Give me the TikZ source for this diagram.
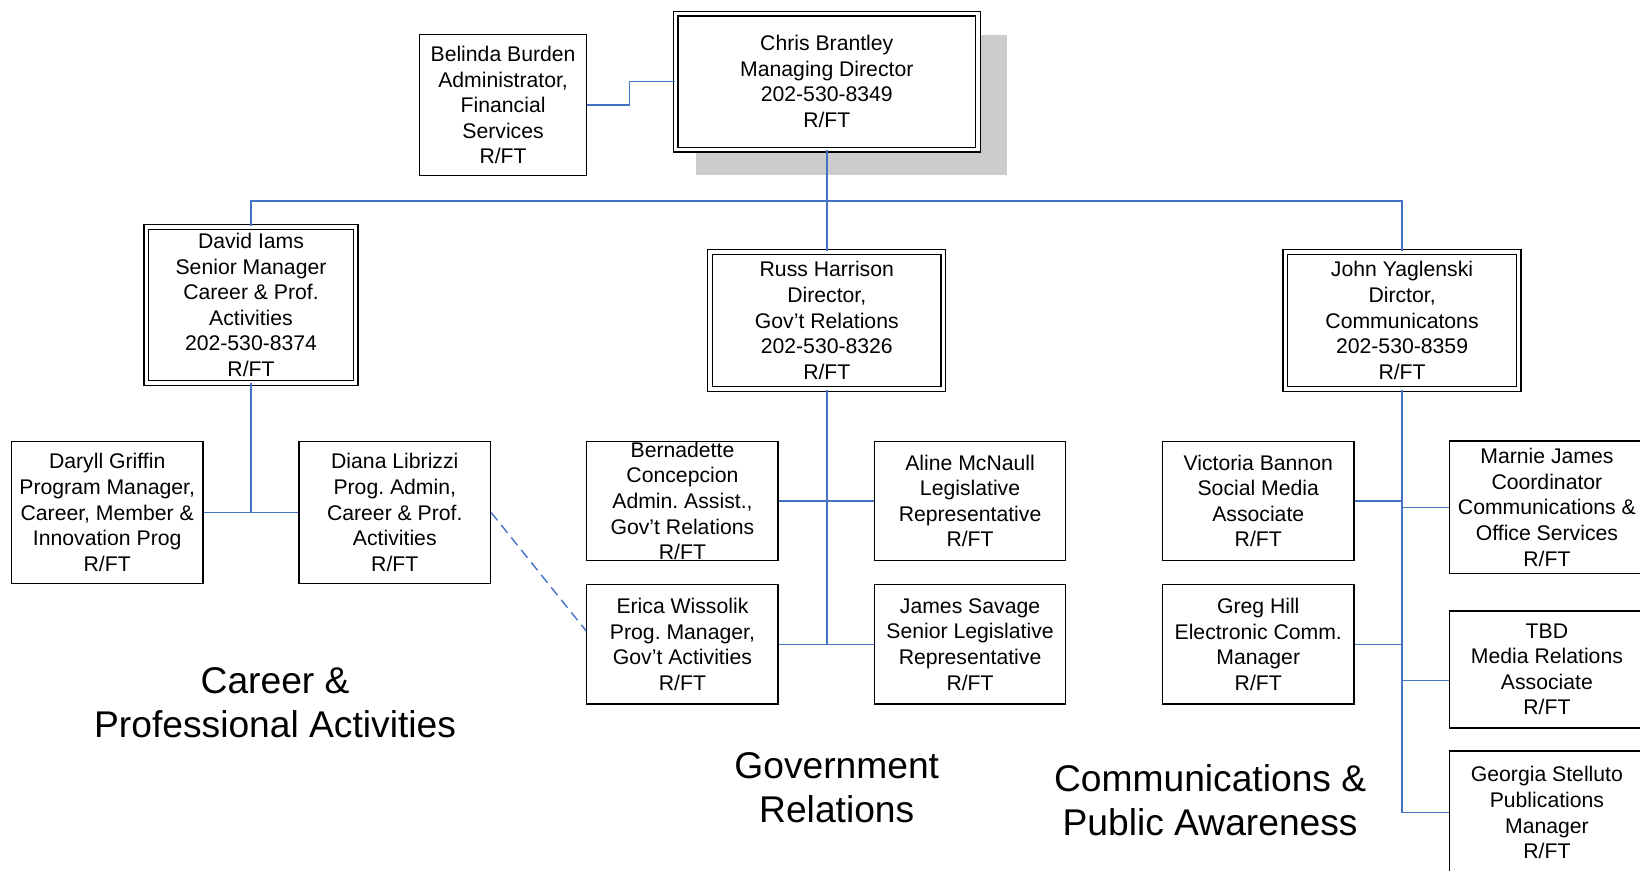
\documentclass[tikz,border=0pt]{standalone}
\usepackage{fontspec}
\setmainfont{Liberation Sans}
\usetikzlibrary{positioning,shadows,calc}
\definecolor{linkblue}{HTML}{4472C4}
\newcommand{\pxu}{0.523pt}
\frenchspacing

\begin{document}
\begin{tikzpicture}[x=\pxu, y=-\pxu, node distance=143.8pt,
    box/.style={draw, line width=0.7pt, fill=white, align=center, inner sep=0pt,
      font=\fontsize{10.6}{12.8}\selectfont, minimum width=183*\pxu, minimum height=114*\pxu},
    headbox/.style={box, double, double distance=1.8pt, line width=0.6pt},
    link/.style={draw=linkblue, line width=0.7pt},
    title/.style={align=center, font=\fontsize{18.6}{22}\selectfont}]
    \useasboundingbox (0,0) rectangle (1568,832);

    % Top
    \node [headbox, minimum width=289*\pxu, minimum height=130*\pxu,
      drop shadow={shadow xshift=12pt, shadow yshift=-11.5pt, shadow scale=1.03, fill=black!20, opacity=1}]
      (chris) at (790.5,78) {Chris Brantley\\Managing Director\\202-530-8349\\R/FT};
    \node [box, minimum width=160*\pxu, minimum height=135*\pxu] (belinda) at (481,100.5)
      {Belinda Burden\\Administrator,\\Financial\\Services\\R/FT};
    \draw [link] (belinda.east) -- ++(40,0) |- (chris.west);

    % Heads
    \node [headbox, minimum width=200*\pxu, minimum height=149*\pxu] (david) at (240,291.5)
      {David Iams\\Senior Manager\\Career \& Prof.\\Activities\\202-530-8374\\R/FT};
    \node [headbox, minimum width=223*\pxu, minimum height=131*\pxu] (russ) at (790.5,306.5)
      {Russ Harrison\\Director,\\Gov’t Relations\\202-530-8326\\R/FT};
    \node [headbox, minimum width=223*\pxu, minimum height=131*\pxu] (john) at (1340.5,306.5)
      {John Yaglenski\\Dirctor,\\Communicatons\\202-530-8359\\R/FT};
    \coordinate (bus) at (790.5,192);
    \draw [link] (chris.south) -- (russ.north);
    \draw [link] (david.north) |- (bus) -| (john.north);

    % Career & Prof.
    \node [box, minimum height=136*\pxu] (daryll) at (102.5,490)
      {Daryll Griffin\\Program Manager,\\Career, Member \&\\Innovation Prog\\R/FT};
    \node [box, minimum height=136*\pxu, right of=daryll] (diana)
      {Diana Librizzi\\Prog. Admin,\\Career \& Prof.\\Activities\\R/FT};
    \draw [link] (david.south) -- (david.south |- daryll.east);
    \draw [link] (daryll.east) -- (diana.west);

    % Gov't Relations
    \node [box] (bernadette) at (652.5,479)
      {Bernadette\\Concepcion\\Admin. Assist.,\\Gov’t Relations\\R/FT};
    \node [box, right of=bernadette] (aline)
      {Aline McNaull\\Legislative\\Representative\\R/FT};
    \node [box, below of=bernadette, node distance=71.7pt] (erica)
      {Erica Wissolik\\Prog. Manager,\\Gov’t Activities\\R/FT};
    \node [box, right of=erica] (james)
      {James Savage\\Senior Legislative\\Representative\\R/FT};
    \draw [link] (russ.south) -- (russ.south |- erica.east);
    \draw [link] (bernadette.east) -- (aline.west);
    \draw [link] (erica.east) -- (james.west);
    \draw [link, dash pattern=on 5pt off 3pt] (diana.east) -- ([yshift=6.8pt]erica.west);

    % Communications
    \node [box] (victoria) at (1203,479)
      {Victoria Bannon\\Social Media\\Associate\\R/FT};
    \node [box, below of=victoria, node distance=71.7pt] (greg)
      {Greg Hill\\Electronic Comm.\\Manager\\R/FT};
    \node [box, minimum width=186*\pxu, minimum height=127*\pxu] (marnie) at (1479,485)
      {Marnie James\\Coordinator\\Communications \&\\Office Services\\R/FT};
    \node [box, minimum width=186*\pxu, minimum height=112*\pxu] (tbd) at (1479,640)
      {TBD\\Media Relations\\Associate\\R/FT};
    \node [box, minimum width=186*\pxu, minimum height=118*\pxu] (georgia) at (1479,777)
      {Georgia Stelluto\\Publications\\Manager\\R/FT};
    \draw [link] (john.south) -- (john.south |- georgia.west);
    \draw [link] (victoria.east) -- (victoria.east -| john.south);
    \draw [link] (greg.east) -- (greg.east -| john.south);
    \draw [link] (marnie.west -| john.south) -- (marnie.west);
    \draw [link] ([yshift=-5.5pt]tbd.west -| john.south) -- ([yshift=-5.5pt]tbd.west);
    \draw [link] (georgia.west -| john.south) -- (georgia.west);

    % Group titles
    \node [title] (careerlbl) at (263,672) {Career \&\\Professional Activities};
    \node [title] (govlbl) at (800,753) {Government\\Relations};
    \node [title] (commlbl) at (1157,765) {Communications \&\\Public Awareness};
\end{tikzpicture}
\end{document}
